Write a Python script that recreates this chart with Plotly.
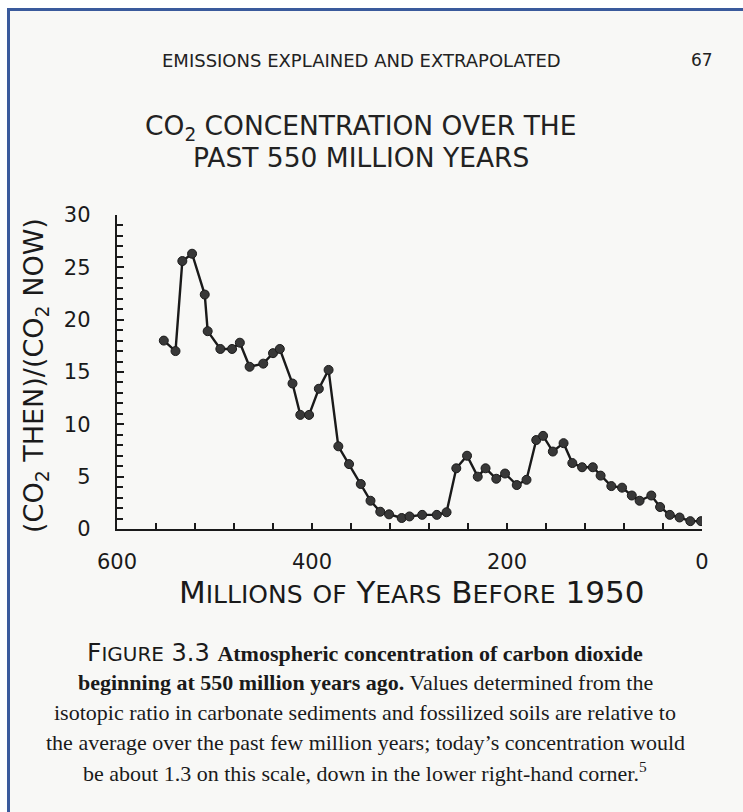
import plotly.graph_objects as go

# ---- data ----
ages_myr = [552, 540, 533, 523, 510, 507, 494, 482, 474, 464,
            450, 440, 433, 420, 412, 403, 393, 383, 373, 362,
            350, 340, 330, 321, 308, 300, 287, 272, 262, 252,
            241, 230, 222, 211, 202, 190, 180, 170, 163, 153,
            142, 133, 123, 112, 104, 93, 82, 72, 64, 52,
            43, 33, 23, 12, 1]
co2_ratio = [18.0, 17.0, 25.6, 26.3, 22.4, 18.9, 17.2, 17.2, 17.8, 15.5,
             15.8, 16.8, 17.2, 13.9, 10.9, 10.9, 13.4, 15.2, 7.9, 6.2,
             4.3, 2.7, 1.65, 1.4, 1.05, 1.2, 1.35, 1.35, 1.6, 5.8,
             7.0, 5.0, 5.8, 4.8, 5.3, 4.2, 4.7, 8.5, 8.9, 7.4,
             8.2, 6.3, 5.9, 5.9, 5.1, 4.1, 3.95, 3.2, 2.7, 3.2,
             2.1, 1.35, 1.1, 0.75, 0.75]
x_tick_vals = [600, 400, 200, 0]
x_tick_text = ["600", "400", "200", "0"]
y_tick_vals = [0, 5, 10, 15, 20, 25, 30]
y_tick_text = ["0", "5", "10", "15", "20", "25", "30"]

W, H = 743, 812
L, R, T, B = 117, 702, 215, 529  # plot area in pixels


def px(x):
    return (x - L) / (R - L)


def py(y):
    return (B - y) / (B - T)


ink = "#1a1a1a"
fig = go.Figure()
fig.add_trace(go.Scatter(
    x=ages_myr, y=co2_ratio, mode="lines+markers",
    line=dict(color=ink, width=2.4),
    marker=dict(size=9, color="#383838", line=dict(color=ink, width=1)),
    showlegend=False, hoverinfo="x+y",
))

tick_font = dict(family="DejaVu Sans", size=21, color=ink)
fig.update_xaxes(
    range=[600, 0], showgrid=False, zeroline=False,
    showline=True, linecolor=ink, linewidth=2.4,
    tickmode="array", tickvals=x_tick_vals, ticktext=x_tick_text,
    ticks="inside", ticklen=6, tickwidth=2, tickcolor=ink,
    tickfont=tick_font, ticklabelstandoff=13,
    minor=dict(dtick=40, tick0=0, ticks="inside", ticklen=6, tickwidth=2, tickcolor=ink),
)
fig.update_yaxes(
    range=[0, 30], showgrid=False, zeroline=False,
    showline=True, linecolor=ink, linewidth=2.4,
    tickmode="array", tickvals=y_tick_vals, ticktext=y_tick_text,
    ticks="inside", ticklen=7, tickwidth=2, tickcolor=ink,
    tickfont=tick_font, ticklabelstandoff=20,
    minor=dict(dtick=1, tick0=0, ticks="inside", ticklen=6, tickwidth=2, tickcolor=ink),
)

page_bg = "#f8f8f6"
blue = "#3a5a9c"
shapes = [
    dict(type="rect", xref="paper", yref="paper", x0=px(0), x1=px(W), y0=py(0), y1=py(H),
         fillcolor="white", line_width=0, layer="below"),
    dict(type="rect", xref="paper", yref="paper", x0=px(8), x1=px(W), y0=py(9), y1=py(H),
         fillcolor=page_bg, line_width=0, layer="below"),
    dict(type="line", xref="paper", yref="paper", x0=px(7), x1=px(W), y0=py(9.5), y1=py(9.5),
         line=dict(color=blue, width=3), layer="below"),
    dict(type="line", xref="paper", yref="paper", x0=px(8.5), x1=px(8.5), y0=py(8), y1=py(H),
         line=dict(color=blue, width=3), layer="below"),
]

ann = []
sans = "DejaVu Sans"
ann.append(dict(text="EMISSIONS EXPLAINED AND EXTRAPOLATED", x=px(361), y=py(60),
                font=dict(family=sans, size=18, color="#222")))
ann.append(dict(text="67", x=px(702), y=py(60), font=dict(family=sans, size=17, color="#222")))
ann.append(dict(text="CO<sub>2</sub> CONCENTRATION OVER THE", x=px(361), y=py(128),
                font=dict(family=sans, size=26.5, color="#222")))
ann.append(dict(text="PAST 550 MILLION YEARS", x=px(361), y=py(158),
                font=dict(family=sans, size=26.5, color="#222")))

ann.append(dict(text="(CO<sub>2</sub> THEN)/(CO<sub>2</sub> NOW)", x=px(35), y=py(376), textangle=-90,
                font=dict(family=sans, size=27, color=ink)))

BIG, SMALL = 31, 25


def cap_word(w):
    return (f"<span style='font-size:{BIG}px'>{w[0]}</span>"
            f"<span style='font-size:{SMALL}px'>{w[1:]}</span>")


x_title = " ".join([cap_word("MILLIONS"),
                    f"<span style='font-size:{SMALL}px'>OF</span>",
                    cap_word("YEARS"), cap_word("BEFORE"),
                    f"<span style='font-size:{BIG}px'>1950</span>"])
ann.append(dict(text=x_title, x=px(411), y=py(592), font=dict(family=sans, size=BIG, color=ink)))

serif = "Liberation Serif"
caption_lines = [
    "<span style='font-family:DejaVu Sans;font-size:25px'>F</span>"
    "<span style='font-family:DejaVu Sans;font-size:20px'>IGURE</span>"
    "<span style='font-family:DejaVu Sans;font-size:24px'> 3.3 </span>"
    "<b>Atmospheric concentration of carbon dioxide</b>",
    "<b>beginning at 550 million years ago.</b> Values determined from the",
    "isotopic ratio in carbonate sediments and fossilized soils are relative to",
    "the average over the past few million years; today’s concentration would",
    "be about 1.3 on this scale, down in the lower right-hand corner.<sup>5</sup>",
]
cap_y = [652, 682, 712, 742, 772]
for line, yy in zip(caption_lines, cap_y):
    ann.append(dict(text=line, x=px(365), y=py(yy),
                    font=dict(family=serif, size=22, color=ink)))

for a in ann:
    a.update(xref="paper", yref="paper", showarrow=False, xanchor="center", yanchor="middle")

fig.update_layout(
    width=W, height=H,
    margin=dict(l=L, r=W - R, t=T, b=H - B, pad=0),
    paper_bgcolor=page_bg, plot_bgcolor="rgba(0,0,0,0)",
    shapes=shapes, annotations=ann,
)

fig.write_html("out.html", config={"displayModeBar": False},
               post_script="document.body.style.margin='0';")
